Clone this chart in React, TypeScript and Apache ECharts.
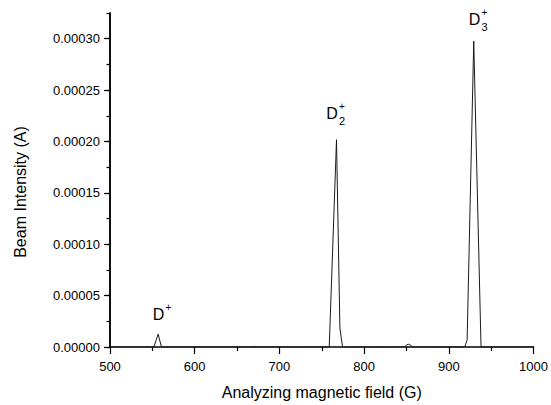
import React, { useEffect, useRef } from "react";
import * as echarts from "echarts";

// Analyzing magnetic field (G) vs beam intensity (A)
const fieldG = [500, 551.8, 556.8, 560.8, 668, 671, 674, 758.8, 767.4, 771.4, 774.5, 848, 850, 852.5, 855, 857, 918.8, 921.6, 929.4, 938, 1000];
const intensityA = [0, 0, 1.25e-5, 0, 0, 6e-7, 0, 0, 2.017e-4, 1.85e-5, 0, 0, 2.0e-6, 2.7e-6, 1.8e-6, 0, 0, 7e-6, 2.976e-4, 0, 0];

const xMin = 500;
const xMax = 1000;
const xInterval = 100;
const yMin = 0;
const yMax = 0.000325;
const yMinorInterval = 0.000025;
const yMajorTicks = [0, 0.00005, 0.0001, 0.00015, 0.0002, 0.00025, 0.0003];

// Peak annotations: D+, D2+, D3+
const peakLabelField = [557.3, 762.1, 930.3];
const peakLabelIntensity = [3.19e-5, 2.273e-4, 3.188e-4];
const peakLabelBase = ["D", "D", "D"];
const peakLabelSub = ["", "2", "3"];
const peakLabelSup = ["+", "+", "+"];

const xTitle = "Analyzing magnetic field (G)";
const yTitle = "Beam Intensity (A)";

const FONT = '"Liberation Sans", Arial, sans-serif';

export default function App() {
  const ref = useRef<HTMLDivElement>(null);
  useEffect(() => {
    if (!ref.current) return;
    const chart = echarts.init(ref.current, null, { renderer: "svg" });
    const option: any = {
      animation: false,
      backgroundColor: "#ffffff",
      grid: { left: 110, right: 16, top: 13, bottom: 53, containLabel: false },
      xAxis: {
        type: "value",
        min: xMin,
        max: xMax,
        interval: xInterval,
        name: xTitle,
        nameLocation: "middle",
        nameGap: 37,
        nameTextStyle: { fontFamily: FONT, fontSize: 16, color: "#000" },
        axisLine: { show: true, onZero: false, lineStyle: { color: "#000", width: 1.5 } },
        axisTick: { show: true, inside: false, length: 7, lineStyle: { color: "#000", width: 1.2 } },
        minorTick: { show: true, splitNumber: 2, length: 4, lineStyle: { color: "#000", width: 1.2 } },
        axisLabel: {
          margin: 13,
          fontFamily: FONT,
          fontSize: 13,
          color: "#000",
          formatter: (v: number) => String(v),
        },
        splitLine: { show: false },
        minorSplitLine: { show: false },
      },
      yAxis: [
        {
          type: "value",
          min: yMin,
          max: yMax,
          position: "left",
          axisLine: { show: true, onZero: false, lineStyle: { color: "#000", width: 1.5 } },
          axisTick: { show: true, inside: false, length: 6, customValues: yMajorTicks, lineStyle: { color: "#000", width: 1.2 } },
          axisLabel: {
            customValues: yMajorTicks,
            margin: 10,
            fontFamily: FONT,
            fontSize: 13,
            color: "#000",
            formatter: (v: number) => v.toFixed(5),
          },
          splitLine: { show: false },
        },
        {
          type: "value",
          min: yMin,
          max: yMax,
          interval: yMinorInterval,
          position: "left",
          offset: 0,
          axisLine: { show: true, onZero: false, lineStyle: { color: "#000", width: 1.5 } },
          axisTick: { show: true, inside: false, length: 3.5, lineStyle: { color: "#000", width: 1.2 } },
          axisLabel: { show: false },
          splitLine: { show: false },
        },
      ],
      graphic: [
        {
          type: "text",
          x: 20,
          y: 192,
          rotation: Math.PI / 2,
          style: {
            text: yTitle,
            font: `16px ${FONT}`,
            fill: "#000",
            align: "center",
            verticalAlign: "middle",
            textAlign: "center",
            textVerticalAlign: "middle",
          },
        },
      ],
      series: [
        {
          type: "line",
          xAxisIndex: 0,
          yAxisIndex: 0,
          data: fieldG.map((g, i) => [g, intensityA[i]]),
          showSymbol: false,
          symbol: "none",
          lineStyle: { color: "#1a1a1a", width: 1 },
          silent: true,
        },
        {
          type: "custom",
          xAxisIndex: 0,
          yAxisIndex: 0,
          clip: false,
          silent: true,
          data: peakLabelField.map((g, i) => [g, peakLabelIntensity[i], i]),
          renderItem: (params: any, api: any) => {
            const p = api.coord([api.value(0), api.value(1)]);
            const i = api.value(2);
            const children: any[] = [
              {
                type: "text",
                x: p[0],
                y: p[1],
                style: {
                  text: peakLabelBase[i],
                  font: `16px ${FONT}`,
                  fill: "#000",
                  align: "center",
                  verticalAlign: "middle",
                  textAlign: "center",
                  textVerticalAlign: "middle",
                },
              },
              {
                type: "text",
                x: p[0] + 7,
                y: p[1] - 7,
                style: {
                  text: peakLabelSup[i],
                  font: `10px ${FONT}`,
                  fill: "#000",
                  align: "left",
                  verticalAlign: "middle",
                  textAlign: "left",
                  textVerticalAlign: "middle",
                },
              },
            ];
            if (peakLabelSub[i]) {
              children.push({
                type: "text",
                x: p[0] + 7,
                y: p[1] + 8,
                style: {
                  text: peakLabelSub[i],
                  font: `11px ${FONT}`,
                  fill: "#000",
                  align: "left",
                  verticalAlign: "middle",
                  textAlign: "left",
                  textVerticalAlign: "middle",
                },
              });
            }
            return { type: "group", children };
          },
        },
      ],
    };
    chart.setOption(option);
    return () => chart.dispose();
  }, []);
  return (
    <div
      ref={ref}
      style={{ position: "fixed", left: 0, top: 0, width: 551, height: 405, background: "#fff" }}
    />
  );
}
